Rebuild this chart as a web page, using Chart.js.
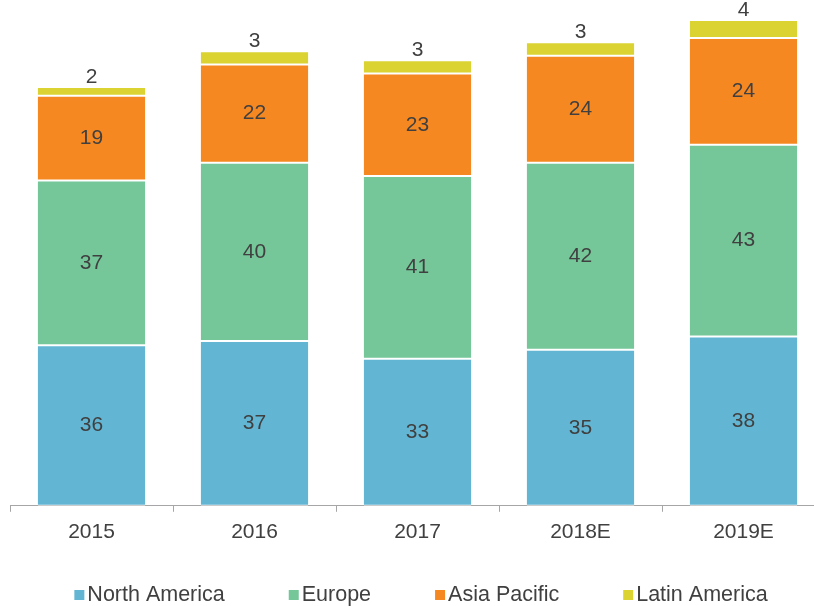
<!DOCTYPE html>
<html>
<head>
<meta charset="utf-8">
<script src="https://cdn.jsdelivr.net/npm/chart.js@4.4.1/dist/chart.umd.min.js"></script>
<style>
  html, body { margin: 0; padding: 0; background: #fff; overflow: hidden; }
  #wrap { position: relative; width: 830px; height: 606px; }
</style>
</head>
<body>
<div id="wrap"><canvas id="regionChart"></canvas></div>
<script>
let years = ['2015', '2016', '2017', '2018E', '2019E'];
let northAmerica = [36, 37, 33, 35, 38];
let europe = [37, 40, 41, 42, 43];
let asiaPacific = [19, 22, 23, 24, 24];
let latinAmerica = [2, 3, 3, 3, 4];

let textColor = '#404040';
let font = '21px "Liberation Sans", Arial, sans-serif';
let legendFont = '21.5px "Liberation Sans", Arial, sans-serif';

// labels inside each segment, last series sits above the bar
let segmentLabels = {
    id : 'segmentLabels',
    afterDatasetsDraw(chart){
        let ctx = chart.ctx;
        ctx.save();
        ctx.font = font;
        ctx.fillStyle = textColor;
        ctx.textAlign = 'center';
        ctx.textBaseline = 'middle';
        let last = chart.data.datasets.length - 1;
        chart.data.datasets.forEach((ds, i) => {
            chart.getDatasetMeta(i).data.forEach((bar, j) => {
                let y = i == last ? bar.y - 10 : (bar.y + bar.base) / 2;
                ctx.fillText(ds.data[j], bar.x, y);
            });
        });
        ctx.restore();
    }
}

// legend drawn at the bottom with small squares
let bottomLegend = {
    id : 'bottomLegend',
    afterDraw(chart){
        let ctx = chart.ctx;
        ctx.save();
        ctx.font = legendFont;
        ctx.textBaseline = 'middle';
        let gap = 64;
        let items = chart.data.datasets.map(ds => ({
            label : ds.label,
            color : ds.backgroundColor,
            w : 13 + ctx.measureText(ds.label).width
        }));
        let total = items.reduce((s, it) => s + it.w, 0) + gap * (items.length - 1);
        let x = 421 - total / 2;
        let y = 595;
        items.forEach(it => {
            ctx.fillStyle = it.color;
            ctx.fillRect(x, y - 5, 10, 10);
            ctx.fillStyle = textColor;
            ctx.fillText(it.label, x + 13, y);
            x += it.w + gap;
        });
        ctx.restore();
    }
}

let seg = { top : 1, bottom : 1, left : 0, right : 0 };

let config = {
    type : 'bar',
    data : {
        labels : years,
        datasets : [
            { label : 'North America', data : northAmerica, backgroundColor : '#62b6d3' },
            { label : 'Europe', data : europe, backgroundColor : '#75c699' },
            { label : 'Asia Pacific', data : asiaPacific, backgroundColor : '#f68821' },
            { label : 'Latin America', data : latinAmerica, backgroundColor : '#dad332' }
        ].map(d => Object.assign(d, {
            borderColor : '#ffffff',
            borderWidth : seg,
            borderSkipped : false,
            barPercentage : 0.66,
            categoryPercentage : 1
        }))
    },
    options : {
        responsive : false,
        animation : false,
        layout : { padding : { left : 10, right : 5, top : 0, bottom : 53 } },
        plugins : {
            legend : { display : false },
            tooltip : { enabled : false }
        },
        scales : {
            x : {
                stacked : true,
                border : { color : '#a6a6a6', width : 1 },
                grid : {
                    offset : true,
                    drawOnChartArea : false,
                    color : '#a6a6a6',
                    tickLength : 6
                },
                ticks : {
                    color : textColor,
                    padding : 8,
                    font : { family : '"Liberation Sans", Arial, sans-serif', size : 21, lineHeight : 1.2 }
                }
            },
            y : {
                stacked : true,
                display : false,
                min : 0,
                max : 113.5
            }
        }
    },
    plugins : [segmentLabels, bottomLegend]
}

let canvas = document.getElementById('regionChart');
canvas.width = 830;
canvas.height = 606;
let chart = new Chart(canvas, config);
</script>
</body>
</html>
